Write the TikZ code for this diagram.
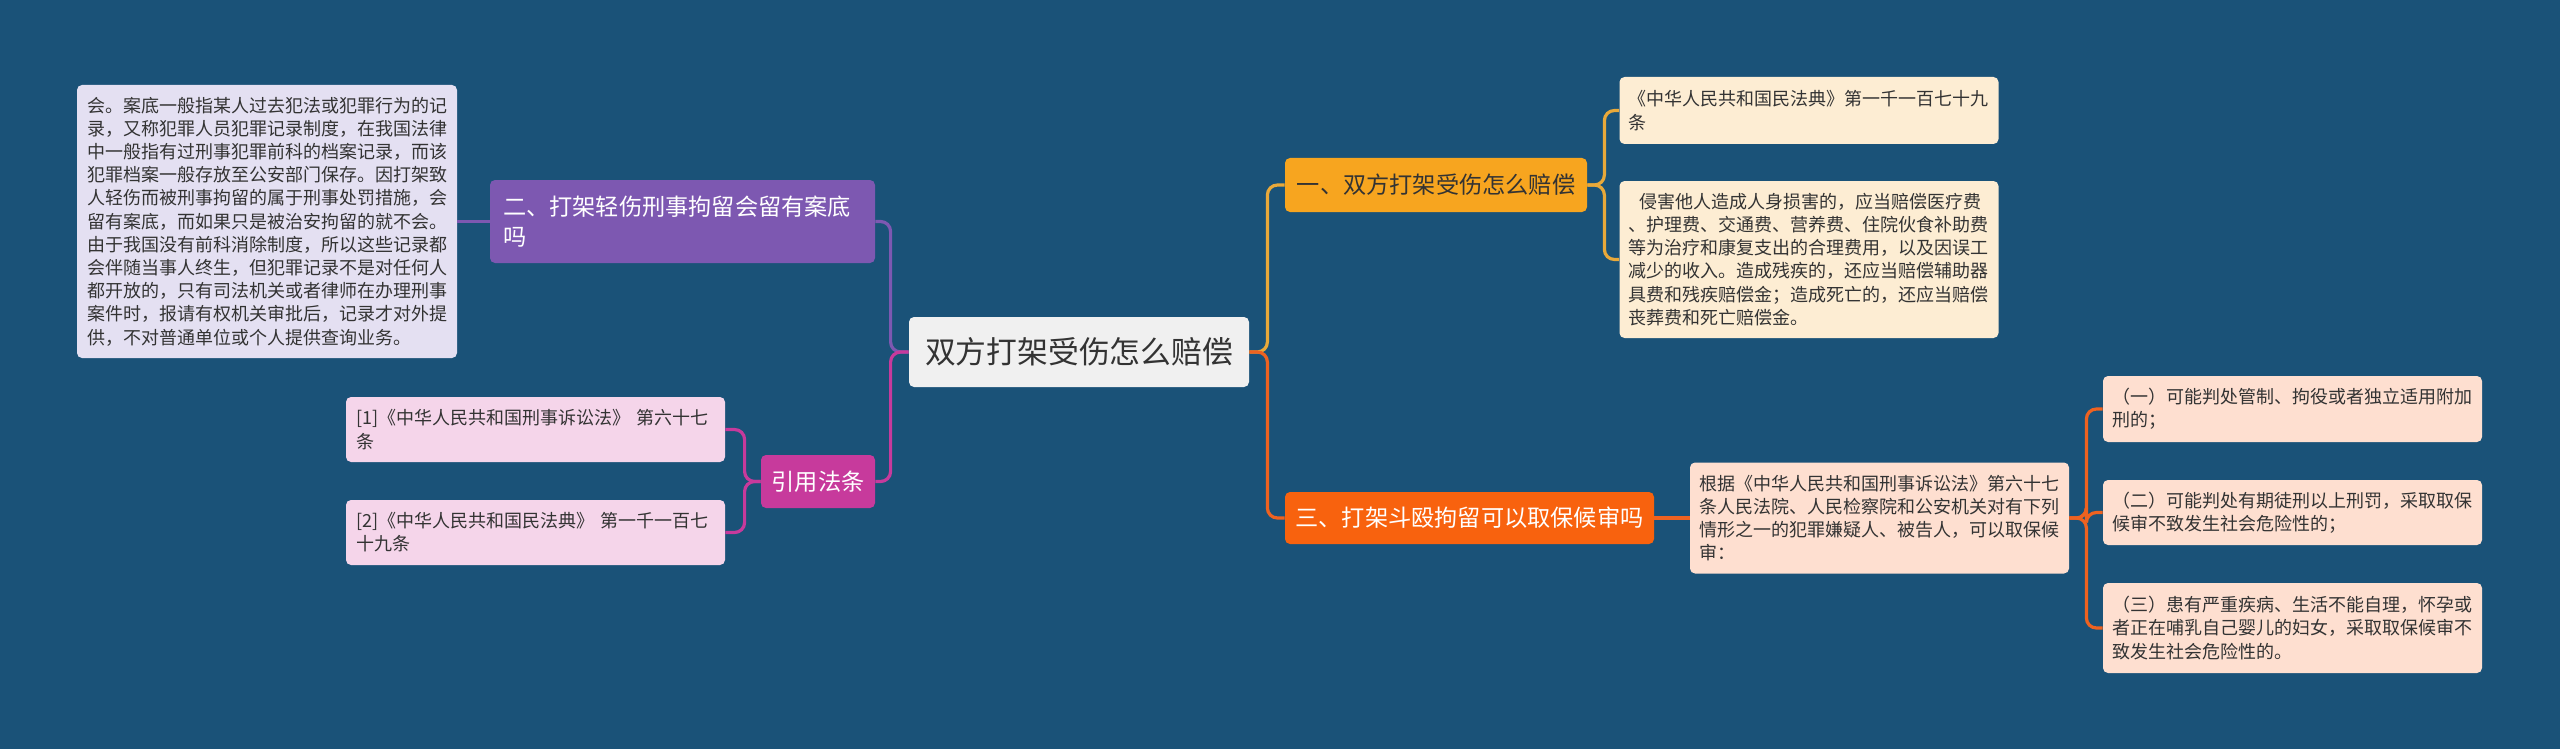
\documentclass[tikz,border=0pt]{standalone}
\usepackage{fontspec}
\setmainfont{Noto Sans CJK SC}
\definecolor{bg}{HTML}{1A5278}
\definecolor{txt}{HTML}{333333}
\definecolor{rootfill}{HTML}{F0F0F0}
\definecolor{purp}{HTML}{7D58B1}
\definecolor{lav}{HTML}{E4E0F2}
\definecolor{magc}{HTML}{C73A9C}
\definecolor{pinkf}{HTML}{F5D5EA}
\definecolor{goldf}{HTML}{F7A51F}
\definecolor{goldc}{HTML}{E9A93A}
\definecolor{cream}{HTML}{FDEDD3}
\definecolor{redf}{HTML}{F8620E}
\definecolor{redc}{HTML}{EE6220}
\definecolor{peach}{HTML}{FEDFD0}
\begin{document}
\begin{tikzpicture}[x=0.5pt,y=-0.5pt,
  box/.style={rounded corners=2.5pt, inner ysep=0pt},
  small/.style={box, font=\fontsize{9pt}{11.6pt}\selectfont, align=left, inner xsep=4.5pt, text width=180.5pt, text=txt},
  big/.style={box, font=\fontsize{11.6pt}{15pt}\selectfont, align=center, text=white},
  conn/.style={line width=1.6pt, rounded corners=5pt}]
\fill[bg] (0,0) rectangle (2560,749);
\useasboundingbox (0,0) rectangle (2560,749);

\node[box, fill=rootfill, minimum width=170pt, minimum height=35pt, inner xsep=2pt, font=\fontsize{15.4pt}{18pt}\selectfont, text=txt] (root) at (1079,352) {双方打架受伤怎么赔偿};

\node[big, fill=purp, minimum height=41.5pt, align=left, text width=179.5pt, inner xsep=6.5pt] (n2) at (682.5,221.5) {二、打架轻伤刑事拘留会留有案底\\吗};
\node[small, fill=lav, minimum height=136.5pt, text width=180pt, inner xsep=5pt] (d2) at (267,221.5) {会。案底一般指某人过去犯法或犯罪行为的记\\录，又称犯罪人员犯罪记录制度，在我国法律\\中一般指有过刑事犯罪前科的档案记录，而该\\犯罪档案一般存放至公安部门保存。因打架致\\人轻伤而被刑事拘留的属于刑事处罚措施，会\\留有案底，而如果只是被治安拘留的就不会。\\由于我国没有前科消除制度，所以这些记录都\\会伴随当事人终生，但犯罪记录不是对任何人\\都开放的，只有司法机关或者律师在办理刑事\\案件时，报请有权机关审批后，记录才对外提\\供，不对普通单位或个人提供查询业务。};

\node[big, fill=magc, minimum width=57pt, minimum height=26.5pt] (ref) at (818,481.5) {引用法条};
\node[small, fill=pinkf, minimum height=32.5pt, text width=179.5pt, inner xsep=5pt] (r1) at (535.5,429.5) {[1]《中华人民共和国刑事诉讼法》 第六十七\\条};
\node[small, fill=pinkf, minimum height=32.5pt, text width=179.5pt, inner xsep=5pt] (r2) at (535.5,532.5) {[2]《中华人民共和国民法典》 第一千一百七\\十九条};

\node[big, fill=goldf, text=txt, minimum width=151pt, minimum height=27pt] (n1) at (1436,185) {一、双方打架受伤怎么赔偿};
\node[small, fill=cream, minimum height=33.5pt] (a1) at (1809,110.5) {《中华人民共和国民法典》第一千一百七十九\\条};
\node[small, fill=cream, minimum height=78.5pt] (a2) at (1809,259.5) {\hspace{0.6em}侵害他人造成人身损害的，应当赔偿医疗费\\、护理费、交通费、营养费、住院伙食补助费\\等为治疗和康复支出的合理费用，以及因误工\\减少的收入。造成残疾的，还应当赔偿辅助器\\具费和残疾赔偿金；造成死亡的，还应当赔偿\\丧葬费和死亡赔偿金。};

\node[big, fill=redf, minimum width=184.5pt, minimum height=26pt] (n3) at (1469.5,518) {三、打架斗殴拘留可以取保候审吗};
\node[small, fill=peach, minimum height=55.5pt] (b0) at (1879.5,518) {根据《中华人民共和国刑事诉讼法》第六十七\\条人民法院、人民检察院和公安机关对有下列\\情形之一的犯罪嫌疑人、被告人，可以取保候\\审：};
\node[small, fill=peach, minimum height=33pt] (b1) at (2292.5,409) {（一）可能判处管制、拘役或者独立适用附加\\刑的；};
\node[small, fill=peach, minimum height=32.5pt] (b2) at (2292.5,512.5) {（二）可能判处有期徒刑以上刑罚，采取取保\\候审不致发生社会危险性的；};
\node[small, fill=peach, minimum height=45pt] (b3) at (2292.5,628) {（三）患有严重疾病、生活不能自理，怀孕或\\者正在哺乳自己婴儿的妇女，采取取保候审不\\致发生社会危险性的。};

\draw[conn, purp] (root.west) -- ++(-18,0) |- (n2.east);
\draw[conn, magc] (root.west) -- ++(-18,0) |- (ref.east);
\draw[conn, purp] (n2.west) -- (d2.east);
\draw[conn, magc] (ref.west) -- ++(-16,0) |- (r1.east);
\draw[conn, magc] (ref.west) -- ++(-16,0) |- (r2.east);
\draw[conn, goldc] (root.east) -- ++(18,0) |- (n1.west);
\draw[conn, redc] (root.east) -- ++(18,0) |- (n3.west);
\draw[conn, goldc] (n1.east) -- ++(17,0) |- (a1.west);
\draw[conn, goldc] (n1.east) -- ++(17,0) |- (a2.west);
\draw[conn, redc] (n3.east) -- (b0.west);
\draw[conn, redc] (b0.east) -- ++(17,0) |- (b1.west);
\draw[conn, redc] (b0.east) -- ++(17,0) |- (b2.west);
\draw[conn, redc] (b0.east) -- ++(17,0) |- (b3.west);
\end{tikzpicture}
\end{document}
